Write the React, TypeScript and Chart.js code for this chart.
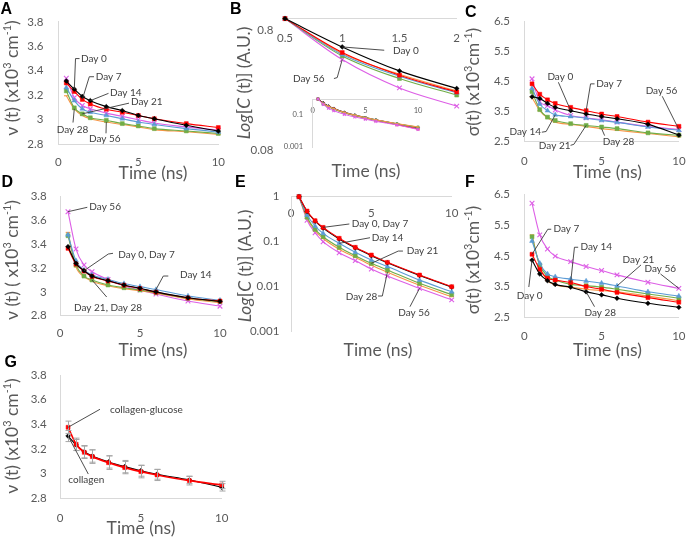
import React, { useEffect, useRef } from 'react';
import { Chart, registerables } from 'chart.js';
Chart.register(...registerables);
Chart.defaults.font.family = 'Lato, "Noto Sans", sans-serif';

const W = 698;
const H = 537;

// ---------------- data ----------------
const TIME = [0.5, 1, 1.5, 2, 3, 4, 5, 6, 8, 10];
const DAY_NAMES = ['Day 0', 'Day 7', 'Day 14', 'Day 21', 'Day 28', 'Day 56'];

// A : nu(t)
const A_DAY0 = [3.316, 3.249, 3.19, 3.155, 3.106, 3.074, 3.034, 3.007, 2.953, 2.906];
const A_DAY7 = [3.3, 3.23, 3.165, 3.128, 3.085, 3.06, 3.034, 3.007, 2.967, 2.935];
const A_DAY14 = [3.262, 3.155, 3.088, 3.06, 3.034, 3.007, 2.98, 2.96, 2.926, 2.898];
const A_DAY21 = [3.235, 3.096, 3.047, 3.015, 2.994, 2.967, 2.948, 2.926, 2.907, 2.886];
const A_DAY28 = [3.195, 3.088, 3.034, 3.007, 2.98, 2.96, 2.94, 2.918, 2.9, 2.878];
const A_DAY56 = [3.338, 3.18, 3.115, 3.088, 3.053, 3.026, 2.999, 2.972, 2.94, 2.913];

// B : C(t)
const B_DAY0 = [1, 0.58, 0.366, 0.261, 0.15, 0.1, 0.07, 0.05, 0.028, 0.016];
const B_DAY7 = [1, 0.521, 0.337, 0.244, 0.14, 0.092, 0.064, 0.046, 0.025, 0.0135];
const B_DAY14 = [1, 0.501, 0.33, 0.24, 0.14, 0.094, 0.067, 0.049, 0.028, 0.017];
const B_DAY21 = [1, 0.488, 0.316, 0.23, 0.135, 0.092, 0.066, 0.048, 0.028, 0.0175];
const B_DAY28 = [1, 0.511, 0.343, 0.249, 0.145, 0.097, 0.069, 0.05, 0.029, 0.018];
const B_DAY56 = [1, 0.455, 0.264, 0.186, 0.11, 0.075, 0.055, 0.04, 0.024, 0.0125];
const B_MAIN_COUNT = 4; // main panel shows t = 0.5 .. 2

// C : sigma(t)
const C_DAY0 = [3.99, 3.935, 3.77, 3.64, 3.53, 3.42, 3.337, 3.26, 3.076, 2.72];
const C_DAY7 = [4.42, 4.076, 3.89, 3.77, 3.64, 3.53, 3.42, 3.337, 3.15, 3.01];
const C_DAY14 = [4.27, 3.75, 3.53, 3.39, 3.337, 3.28, 3.206, 3.14, 2.989, 2.88];
const C_DAY21 = [4.16, 3.565, 3.315, 3.206, 3.098, 3.04, 2.989, 2.935, 2.793, 2.717];
const C_DAY28 = [3.97, 3.53, 3.29, 3.15, 3.076, 3.01, 2.935, 2.88, 2.77, 2.663];
const C_DAY56 = [4.587, 3.826, 3.7, 3.55, 3.37, 3.29, 3.23, 3.15, 3.01, 2.9];

// D : nu(t)
const D_DAY0 = [3.38, 3.24, 3.178, 3.133, 3.094, 3.058, 3.03, 3.0, 2.951, 2.921];
const D_DAY7 = [3.366, 3.234, 3.175, 3.13, 3.092, 3.056, 3.028, 2.998, 2.949, 2.923];
const D_DAY14 = [3.48, 3.262, 3.184, 3.142, 3.105, 3.07, 3.044, 3.02, 2.965, 2.93];
const D_DAY21 = [3.472, 3.226, 3.133, 3.1, 3.058, 3.035, 3.016, 2.993, 2.946, 2.918];
const D_DAY28 = [3.5, 3.21, 3.128, 3.09, 3.052, 3.027, 3.01, 2.99, 2.94, 2.91];
const D_DAY56 = [3.674, 3.36, 3.226, 3.17, 3.105, 3.05, 3.016, 2.982, 2.923, 2.88];

// E : C(t)
const E_DAY0 = [1, 0.47, 0.285, 0.2, 0.115, 0.073, 0.049, 0.034, 0.0178, 0.0098];
const E_DAY7 = [1, 0.48, 0.293, 0.208, 0.119, 0.075, 0.0506, 0.0348, 0.0182, 0.01];
const E_DAY14 = [1, 0.39, 0.223, 0.153, 0.092, 0.058, 0.039, 0.028, 0.014, 0.0077];
const E_DAY21 = [1, 0.35, 0.188, 0.129, 0.075, 0.049, 0.033, 0.0235, 0.0119, 0.0067];
const E_DAY28 = [1, 0.33, 0.175, 0.118, 0.068, 0.045, 0.03, 0.021, 0.0108, 0.006];
const E_DAY56 = [1, 0.3, 0.158, 0.1, 0.057, 0.038, 0.0247, 0.0172, 0.0092, 0.0051];

// F : sigma(t)
const F_DAY0 = [4.36, 3.91, 3.69, 3.57, 3.48, 3.33, 3.23, 3.12, 2.955, 2.825];
const F_DAY7 = [4.55, 4.06, 3.77, 3.71, 3.63, 3.5, 3.41, 3.31, 3.14, 2.99];
const F_DAY14 = [4.98, 4.26, 3.91, 3.82, 3.74, 3.68, 3.61, 3.52, 3.33, 3.19];
const F_DAY21 = [5.12, 4.2, 3.84, 3.71, 3.57, 3.53, 3.48, 3.41, 3.26, 3.12];
const F_DAY28 = [5.18, 4.15, 3.69, 3.55, 3.48, 3.41, 3.37, 3.33, 3.19, 3.04];
const F_DAY56 = [6.207, 5.18, 4.72, 4.49, 4.31, 4.15, 4.02, 3.88, 3.64, 3.44];

// G : nu(t) with error bars
const G_NAMES = ['collagen-glucose', 'collagen'];
const G_GLUCOSE = [3.376, 3.238, 3.173, 3.138, 3.089, 3.049, 3.016, 2.989, 2.943, 2.908];
const G_COLLAGEN = [3.305, 3.232, 3.178, 3.143, 3.095, 3.057, 3.024, 2.995, 2.949, 2.889];
const G_GLUCOSE_ERR = [0.05, 0.05, 0.05, 0.055, 0.055, 0.05, 0.05, 0.045, 0.035, 0.03];
const G_COLLAGEN_ERR = [0.045, 0.045, 0.05, 0.05, 0.05, 0.05, 0.045, 0.04, 0.03, 0.03];

// tick labels
const X_TICKS = [0, 5, 10];
const NU_TICKS = [2.8, 3, 3.2, 3.4, 3.6, 3.8];
const SIGMA_TICKS = [2.5, 3.5, 4.5, 5.5, 6.5];
const B_X_TICKS = [0.5, 1, 1.5, 2];
const B_Y_TICKS = [0.08, 0.8];
const LOG_TICKS = [0.001, 0.01, 0.1, 1];
const INSET_Y_TICKS = [0.001, 0.1];

// ---------------- styles ----------------
const AXIS_COLOR = '#D9D9D9';
const TICK_COLOR = '#595959';
const LABEL_COLOR = '#404040';
const STYLES = [
  { color: '#000000', ps: 'rectRot', r: 2.4 },
  { color: '#FF0000', ps: 'rect', r: 2.8 },
  { color: '#5B9BD5', ps: 'triangle', r: 2.8 },
  { color: '#70AD47', ps: 'rect', r: 2.8 },
  { color: '#F79646', ps: 'line', r: 2.3 },
  { color: '#DD5FE6', ps: 'crossRot', r: 3.3 },
];

function dataset(label: string, xs: number[], ys: number[], st: any, k = 1, lw = 1.1) {
  return {
    label,
    data: xs.map((x, i) => ({ x, y: ys[i] })),
    borderColor: st.color,
    backgroundColor: st.color,
    pointBorderColor: st.color,
    pointBackgroundColor: st.color,
    borderWidth: lw,
    pointStyle: st.ps,
    pointRadius: st.r * k,
    pointHoverRadius: st.r * k,
    pointBorderWidth: st.ps === 'crossRot' || st.ps === 'line' ? 1.1 : 0.5,
    cubicInterpolationMode: 'monotone',
    fill: false,
    clip: false,
  };
}

function daySets(series: number[][], count = TIME.length, k = 1, lw = 1.1) {
  return series.map((s, j) => dataset(DAY_NAMES[j], TIME.slice(0, count), s.slice(0, count), STYLES[j], k, lw));
}

function redOnTop(sets: any[]) {
  sets[1].order = -1;
  return sets;
}

const NU_TITLE = [{ t: 'ν (t) (x10' }, { t: '3', sup: true }, { t: ' cm' }, { t: '-1', sup: true }, { t: ')' }];
const NU_TITLE_D = [{ t: 'ν (t) ( x10' }, { t: '3', sup: true }, { t: ' cm' }, { t: '-1', sup: true }, { t: ')' }];
const SIGMA_TITLE = [{ t: 'σ(t) (x10' }, { t: '3', sup: true }, { t: 'cm' }, { t: '-1', sup: true }, { t: ')' }];
const LOG_TITLE = [{ t: 'Log', it: true }, { t: '[' }, { t: 'C', it: true }, { t: ' (t)] (A.U.)' }];
const TIME_TITLE = [{ t: 'Time (ns)' }];

// ---------------- panels ----------------
const PANELS: any[] = [
  {
    area: { l: 58.3, t: 20, r: 218.3, b: 144 },
    x: { min: 0, max: 10, ticks: X_TICKS, pad: 11.8 },
    y: { min: 2.8, max: 3.8, ticks: NU_TICKS, pad: 15 },
    datasets: daySets([A_DAY0, A_DAY7, A_DAY14, A_DAY21, A_DAY28, A_DAY56]),
    letter: { t: 'A', x: 0.5, y: 14 },
    xTitle: { segs: TIME_TITLE, x: 153, y: 173 },
    yTitle: { segs: NU_TITLE, x: 12, y: 78 },
    labels: [
      { text: 'Day 0', s: 0, i: 1, dx: 6.7, dy: -30.6, lead: [[5.2, -30.6], [1.2, -30.6]] },
      { text: 'Day 7', s: 1, i: 2, dx: 13.4, dy: -22.7, lead: [[11.7, -22.7], [7, -22.7]] },
      { text: 'Day 14', s: 0, i: 3, dx: 19.7, dy: -8.3, lead: [[18.2, -7.3]] },
      { text: 'Day 21', s: 3, i: 2, dx: 48.7, dy: -11.7, lead: [[46.7, -10.7]] },
      { text: 'Day 28', s: 4, i: 1, dx: -17.6, dy: 20.7, lead: [[-1.3, 13.7]] },
      { text: 'Day 56', s: 4, i: 4, dx: -17.3, dy: 16.3, lead: [[-0.3, 11.3]] },
    ],
  },
  {
    area: { l: 285, t: 18.3, r: 456.7, b: 150 },
    x: { min: 0.5, max: 2, ticks: B_X_TICKS, pad: 13.1, atTop: 1 },
    y: { type: 'logarithmic', min: 0.08, max: 1, ticks: B_Y_TICKS, pad: 11.7, border: false },
    datasets: daySets([B_DAY0, B_DAY7, B_DAY14, B_DAY21, B_DAY28, B_DAY56], B_MAIN_COUNT),
    letter: { t: 'B', x: 230, y: 13.5 },
    xTitle: { segs: TIME_TITLE, x: 366, y: 171 },
    yTitle: { segs: LOG_TITLE, x: 243.5, y: 83 },
    labels: [
      { text: 'Day 0', s: 0, i: 1, dx: 50.7, dy: 4, lead: [[42, 3.3]] },
      { text: 'Day 56', s: 5, i: 1, dx: -49.3, dy: 19.7, lead: [[-8.3, 19], [-5, 18]] },
    ],
  },
  {
    // inset of B (black drawn underneath)
    area: { l: 312.7, t: 99, r: 418, b: 147 },
    x: { min: 0, max: 10, ticks: X_TICKS, pad: 7.2, atTop: 1, fs: 7.5 },
    y: { type: 'logarithmic', min: 0.001, max: 1, ticks: INSET_Y_TICKS, pad: 9.7, fs: 7.5 },
    datasets: daySets([B_DAY0, B_DAY7, B_DAY14, B_DAY21, B_DAY28, B_DAY56], TIME.length, 0.6, 1).reverse(),
  },
  {
    area: { l: 524.3, t: 19, r: 690, b: 141.7 },
    x: { min: 0, max: 10, ticks: X_TICKS, pad: 12.4 },
    y: { min: 2.5, max: 6.5, ticks: SIGMA_TICKS, pad: 14.3 },
    datasets: daySets([C_DAY0, C_DAY7, C_DAY14, C_DAY21, C_DAY28, C_DAY56]),
    letter: { t: 'C', x: 465, y: 16.5 },
    xTitle: { segs: TIME_TITLE, x: 607.5, y: 172 },
    yTitle: { segs: SIGMA_TITLE, x: 472.7, y: 82 },
    labels: [
      { text: 'Day 0', s: 0, i: 4, dx: -23.3, dy: -33.4, lead: [[-12.3, -28.4]] },
      { text: 'Day 7', s: 1, i: 5, dx: 10.1, dy: -26.8, lead: [[8.4, -26.8], [4.4, -26.8]] },
      { text: 'Day 56', s: 5, i: 9, dx: -33.3, dy: -38.7, lead: [[-16.7, -33.4]] },
      { text: 'Day 14', s: 2, i: 3, dx: -45.7, dy: 17.3, lead: [[-13.4, 17.3], [-9.1, 16.6]] },
      { text: 'Day 21', s: 3, i: 5, dx: -47.3, dy: 19.9, lead: [[-15.6, 19.9], [-12.3, 18.9]] },
      { text: 'Day 28', s: 4, i: 6, dx: 1.1, dy: 13.4, lead: [[3, 7]] },
    ],
  },
  {
    area: { l: 60, t: 196.7, r: 220, b: 315.7 },
    x: { min: 0, max: 10, ticks: X_TICKS, pad: 10.7 },
    y: { min: 2.8, max: 3.8, ticks: NU_TICKS, pad: 13.3 },
    datasets: daySets([D_DAY0, D_DAY7, D_DAY14, D_DAY21, D_DAY28, D_DAY56]),
    letter: { t: 'D', x: 1.5, y: 186.5 },
    xTitle: { segs: TIME_TITLE, x: 153, y: 350 },
    yTitle: { segs: NU_TITLE_D, x: 12, y: 260 },
    labels: [
      { text: 'Day 56', s: 5, i: 0, dx: 21.3, dy: -5, lead: [[19.3, -4.4]] },
      { text: 'Day 0, Day 7', s: 0, i: 2, dx: 34.3, dy: -16.4, lead: [[29, -17.4], [24.3, -16.7]] },
      { text: 'Day 14', s: 2, i: 7, dx: 24, dy: -14.5, lead: [[12.3, -13.5], [7.3, -13.5]] },
      { text: 'Day 21, Day 28', s: 3, i: 3, dx: -18, dy: 27.3, lead: [[14.7, 17]] },
    ],
  },
  {
    area: { l: 291, t: 196.7, r: 451.7, b: 331.7 },
    x: { min: 0, max: 10, ticks: X_TICKS, pad: 9.7, atTop: 1 },
    y: { type: 'logarithmic', min: 0.001, max: 1, ticks: LOG_TICKS, pad: 11.7 },
    datasets: redOnTop(daySets([E_DAY0, E_DAY7, E_DAY14, E_DAY21, E_DAY28, E_DAY56])),
    letter: { t: 'E', x: 235, y: 186.5 },
    xTitle: { segs: TIME_TITLE, x: 378, y: 350 },
    yTitle: { segs: LOG_TITLE, x: 245, y: 266 },
    labels: [
      { text: 'Day 0, Day 7', s: 1, i: 3, dx: 28.6, dy: -4.1, lead: [[26.2, -3.4]] },
      { text: 'Day 14', s: 2, i: 4, dx: 32.5, dy: -5.6, lead: [[30.8, -5.6]] },
      { text: 'Day 21', s: 3, i: 6, dx: 35.3, dy: -12.6, lead: [[31.6, -12.3], [26.9, -12.3]] },
      { text: 'Day 28', s: 4, i: 7, dx: -41.7, dy: 24.5, lead: [[-9.4, 23.8], [-5.1, 23.8]] },
      { text: 'Day 56', s: 5, i: 8, dx: -21.3, dy: 24.4, lead: [[-9.6, 18.4]] },
    ],
  },
  {
    area: { l: 524.3, t: 194.3, r: 688.3, b: 317.3 },
    x: { min: 0, max: 10, ticks: X_TICKS, pad: 12.5 },
    y: { min: 2.5, max: 6.5, ticks: SIGMA_TICKS, pad: 14.3 },
    datasets: daySets([F_DAY0, F_DAY7, F_DAY14, F_DAY21, F_DAY28, F_DAY56]),
    letter: { t: 'F', x: 465, y: 186.5 },
    xTitle: { segs: TIME_TITLE, x: 607.5, y: 350 },
    yTitle: { segs: SIGMA_TITLE, x: 472.7, y: 260 },
    labels: [
      { text: 'Day 7', s: 1, i: 0, dx: 21.5, dy: -25, lead: [[19.2, -25], [15.8, -25]] },
      { text: 'Day 14', s: 1, i: 4, dx: 9.8, dy: -35.3, lead: [[7.5, -35.3], [3.8, -35.3]] },
      { text: 'Day 21', s: 2, i: 7, dx: 5.6, dy: -25.9, lead: [[24, -21]] },
      { text: 'Day 56', s: 5, i: 9, dx: -34.3, dy: -20.1, lead: [[-18.3, -14.4]] },
      { text: 'Day 0', s: 0, i: 0, dx: -15.2, dy: 35.9, lead: [[-3.2, 26.9]] },
      { text: 'Day 28', s: 0, i: 5, dx: -1.6, dy: 21.5, lead: [[8.4, 14.9]] },
    ],
  },
  {
    area: { l: 60, t: 375, r: 221.7, b: 498.3 },
    x: { min: 0, max: 10, ticks: X_TICKS, pad: 13.1 },
    y: { min: 2.8, max: 3.8, ticks: NU_TICKS, pad: 13.3 },
    datasets: [
      dataset(G_NAMES[0], TIME, G_GLUCOSE, { color: '#FF0000', ps: 'rect', r: 2.8 }, 1, 1.7),
      dataset(G_NAMES[1], TIME, G_COLLAGEN, { color: '#000000', ps: 'rectRot', r: 2.4 }, 1, 1.1),
    ],
    errors: [G_GLUCOSE_ERR, G_COLLAGEN_ERR],
    letter: { t: 'G', x: 4.5, y: 366.5 },
    xTitle: { segs: TIME_TITLE, x: 141, y: 528 },
    yTitle: { segs: NU_TITLE, x: 12, y: 436 },
    labels: [
      { text: 'collagen-glucose', s: 0, i: 0, dx: 41.9, dy: -17.3, lead: [[31.9, -18]] },
      { text: 'collagen', s: 1, i: 0, dx: 0.2, dy: 44, lead: [[20.2, 38]] },
    ],
  },
];

// ---------------- drawing helpers ----------------
function drawRich(ctx: CanvasRenderingContext2D, segs: any[], cx: number, cy: number, size: number, rotate: boolean) {
  ctx.save();
  ctx.translate(cx, cy);
  if (rotate) ctx.rotate(-Math.PI / 2);
  const font = (sg: any) => `${sg.it ? 'italic ' : ''}${sg.sup ? size * 0.62 : size}px Lato, "Noto Sans", sans-serif`;
  let total = 0;
  const widths = segs.map((sg) => {
    ctx.font = font(sg);
    const w = ctx.measureText(sg.t).width;
    total += w;
    return w;
  });
  let x = -total / 2;
  const base = size * 0.36;
  ctx.fillStyle = TICK_COLOR;
  ctx.textAlign = 'left';
  ctx.textBaseline = 'alphabetic';
  segs.forEach((sg, i) => {
    ctx.font = font(sg);
    ctx.fillText(sg.t, x, sg.sup ? base - size * 0.4 : base);
    x += widths[i];
  });
  ctx.restore();
}

function makeDeco(p: any) {
  return {
    id: 'deco',
    afterDatasetsDraw(chart: any) {
      if (!p.errors) return;
      const ctx = chart.ctx;
      const ys = chart.scales.y;
      ctx.save();
      ctx.strokeStyle = '#A6A6A6';
      ctx.lineWidth = 1;
      p.errors.forEach((err: number[], ds: number) => {
        const meta = chart.getDatasetMeta(ds);
        meta.data.forEach((pt: any, i: number) => {
          const v = chart.data.datasets[ds].data[i].y;
          const y1 = ys.getPixelForValue(v + err[i]);
          const y2 = ys.getPixelForValue(v - err[i]);
          const x = Math.round(pt.x) + 0.5;
          ctx.beginPath();
          ctx.moveTo(x, y1);
          ctx.lineTo(x, y2);
          ctx.moveTo(x - 3, y1);
          ctx.lineTo(x + 3, y1);
          ctx.moveTo(x - 3, y2);
          ctx.lineTo(x + 3, y2);
          ctx.stroke();
        });
      });
      ctx.restore();
    },
    afterDraw(chart: any) {
      const ctx: CanvasRenderingContext2D = chart.ctx;
      ctx.save();
      if (p.letter) {
        ctx.font = 'bold 16px "Liberation Sans", Arial, sans-serif';
        ctx.fillStyle = '#000';
        ctx.textAlign = 'left';
        ctx.textBaseline = 'alphabetic';
        ctx.fillText(p.letter.t, p.letter.x, p.letter.y);
      }
      if (p.xTitle) drawRich(ctx, p.xTitle.segs, p.xTitle.x, p.xTitle.y, 17.5, false);
      if (p.yTitle) drawRich(ctx, p.yTitle.segs, p.yTitle.x, p.yTitle.y, 17.5, true);
      (p.labels || []).forEach((L: any) => {
        const pt = chart.getDatasetMeta(L.s).data[L.i];
        if (!pt) return;
        ctx.font = '10px Lato, "Noto Sans", sans-serif';
        ctx.fillStyle = LABEL_COLOR;
        ctx.textAlign = 'left';
        ctx.textBaseline = 'middle';
        ctx.fillText(L.text, pt.x + L.dx, pt.y + L.dy);
        const pts = [...L.lead.map((q: number[]) => [pt.x + q[0], pt.y + q[1]]), [pt.x, pt.y]];
        ctx.strokeStyle = '#3A3A3A';
        ctx.lineWidth = 0.9;
        ctx.beginPath();
        ctx.moveTo(pts[0][0], pts[0][1]);
        for (let k = 1; k < pts.length; k++) ctx.lineTo(pts[k][0], pts[k][1]);
        ctx.stroke();
      });
      ctx.restore();
    },
  };
}

function axis(o: any) {
  const s: any = {
    type: o.type || 'linear',
    min: o.min,
    max: o.max,
    position: o.position,
    grid: { display: false, drawTicks: false },
    border: { display: o.border !== false, color: AXIS_COLOR, width: 1 },
    ticks: {
      padding: o.pad,
      color: TICK_COLOR,
      font: { size: o.fs || 11.5 },
      autoSkip: false,
      maxRotation: 0,
      minRotation: 0,
      callback: (v: number) => String(v),
    },
    afterBuildTicks: (sc: any) => {
      sc.ticks = o.ticks.map((v: number) => ({ value: v }));
    },
  };
  if (o.fit) s.afterFit = o.fit;
  return s;
}

function buildConfig(p: any) {
  const a = p.area;
  const atTop = p.x.atTop !== undefined;
  const x = axis({
    ...p.x,
    position: atTop ? { y: p.x.atTop } : 'bottom',
    fit: atTop ? undefined : (sc: any) => { sc.height = H - a.b; },
  });
  const y = axis({ ...p.y, position: 'left', fit: (sc: any) => { sc.width = a.l; } });
  return {
    type: 'line',
    data: { datasets: p.datasets },
    options: {
      responsive: false,
      maintainAspectRatio: false,
      animation: false,
      events: [],
      layout: { padding: { left: 0, top: a.t, right: W - a.r, bottom: atTop ? H - a.b : 0 } },
      plugins: { legend: { display: false }, tooltip: { enabled: false } },
      scales: { x, y },
    },
    plugins: [makeDeco(p)],
  } as any;
}

export default function App() {
  const refs = useRef<(HTMLCanvasElement | null)[]>([]);
  useEffect(() => {
    const charts = PANELS.map((p, k) => new Chart(refs.current[k] as HTMLCanvasElement, buildConfig(p)));
    return () => charts.forEach((c) => c.destroy());
  }, []);
  return (
    <div style={{ position: 'fixed', left: 0, top: 0, width: W, height: H, background: '#fff', overflow: 'hidden' }}>
      {PANELS.map((_, k) => (
        <canvas
          key={k}
          ref={(el) => { refs.current[k] = el; }}
          width={W}
          height={H}
          style={{ position: 'absolute', left: 0, top: 0, width: W, height: H }}
        />
      ))}
    </div>
  );
}
